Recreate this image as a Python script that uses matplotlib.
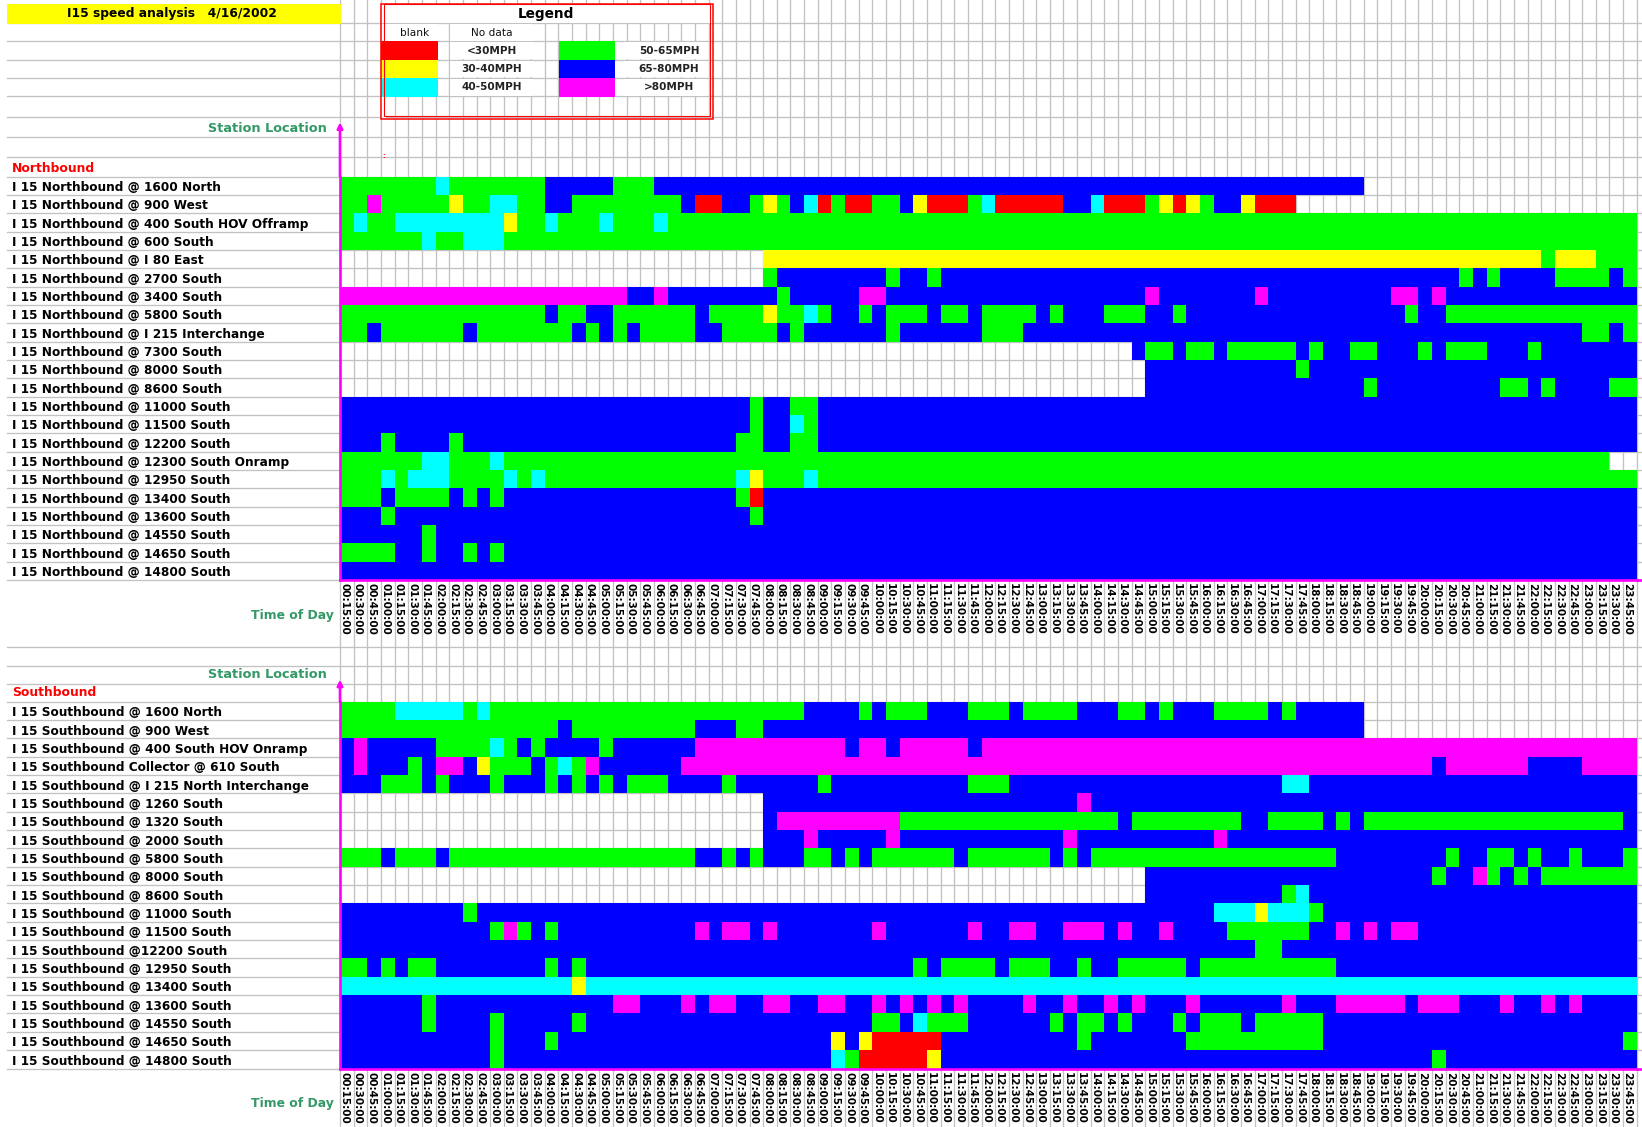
import numpy as np
import matplotlib
matplotlib.use('Agg')
import matplotlib.pyplot as plt
from matplotlib.colors import ListedColormap
from matplotlib.patches import Rectangle

W, H = 1642, 1127

# speed classes, in cell codes
codes = {'.': 0, 'R': 1, 'Y': 2, 'C': 3, 'G': 4, 'B': 5, 'M': 6}
class_colors = ['#ff0000', '#ffff00', '#00ffff', '#00ff00', '#0000ff', '#ff00ff']
legend_left = ['<30MPH', '30-40MPH', '40-50MPH']
legend_right = ['50-65MPH', '65-80MPH', '>80MPH']

north_labels = ['I 15 Northbound @ 1600 North', 'I 15 Northbound @ 900 West',
                'I 15 Northbound @ 400 South HOV Offramp', 'I 15 Northbound @ 600 South',
                'I 15 Northbound @ I 80 East', 'I 15 Northbound @ 2700 South',
                'I 15 Northbound @ 3400 South', 'I 15 Northbound @ 5800 South',
                'I 15 Northbound @ I 215 Interchange', 'I 15 Northbound @ 7300 South',
                'I 15 Northbound @ 8000 South', 'I 15 Northbound @ 8600 South',
                'I 15 Northbound @ 11000 South', 'I 15 Northbound @ 11500 South',
                'I 15 Northbound @ 12200 South', 'I 15 Northbound @ 12300 South Onramp',
                'I 15 Northbound @ 12950 South', 'I 15 Northbound @ 13400 South',
                'I 15 Northbound @ 13600 South', 'I 15 Northbound @ 14550 South',
                'I 15 Northbound @ 14650 South', 'I 15 Northbound @ 14800 South']

south_labels = ['I 15 Southbound @ 1600 North', 'I 15 Southbound @ 900 West',
                'I 15 Southbound @ 400 South HOV Onramp', 'I 15 Southbound Collector @ 610 South',
                'I 15 Southbound @ I 215 North Interchange', 'I 15 Southbound @ 1260 South',
                'I 15 Southbound @ 1320 South', 'I 15 Southbound @ 2000 South',
                'I 15 Southbound @ 5800 South', 'I 15 Southbound @ 8000 South',
                'I 15 Southbound @ 8600 South', 'I 15 Southbound @ 11000 South',
                'I 15 Southbound @ 11500 South', 'I 15 Southbound @12200 South',
                'I 15 Southbound @ 12950 South', 'I 15 Southbound @ 13400 South',
                'I 15 Southbound @ 13600 South', 'I 15 Southbound @ 14550 South',
                'I 15 Southbound @ 14650 South', 'I 15 Southbound @ 14800 South']

# one string per station: class letter + number of consecutive cells
north_runs = [
    'G7 C1 G7 B5 G3 B52 .20',
    'G2 M1 G5 Y1 G2 C2 G2 B2 G8 B1 R2 B2 G1 Y1 G1 B1 C1 R1 G1 R2 G2 B1 Y1 R3 G1 C1 R5 B2 C1 R3 G1 Y1 R1 Y1 G1 B2 Y1 R3 .25',
    'G1 C1 G2 C8 Y1 G2 C1 G3 C1 G3 C1 G71',
    'G6 C1 G2 C3 G83',
    '.31 Y57 G1 Y3 G3',
    '.31 G1 B8 G1 B2 G1 B38 G1 B1 G1 B4 G4 B1 G1',
    'M21 B2 M1 B8 G1 B5 M2 B19 M1 B7 M1 B9 M2 B1 M1 B14',
    'G15 B1 G2 B2 G6 B1 G4 Y1 G2 C1 G1 B2 G1 B1 G3 B1 G2 B1 G4 B1 G1 B3 G3 B2 G1 B16 G1 B2 G14',
    'G2 B1 G6 B1 G7 B1 G1 B1 G1 B1 G4 B2 G4 B1 G1 B6 G1 B6 G3 B41 G2 B1 G1',
    '.58 B1 G2 B1 G2 B1 G5 B1 G1 B2 G2 B3 G1 B1 G3 B3 G1 B7',
    '.59 B11 G1 B24',
    '.59 B16 G1 B9 G2 B1 G1 B4 G2',
    'B30 G1 B2 G2 B60',
    'B30 G1 B2 C1 G1 B60',
    'B3 G1 B4 G1 B20 G2 B2 G2 B60',
    'G6 C2 G3 C1 G81 .2',
    'G3 C1 G1 C3 G4 C1 G1 C1 G14 C1 Y1 G3 C1 G60',
    'G3 B1 G4 B1 G1 B1 G1 B17 G1 R1 B64',
    'B3 G1 B26 G1 B64',
    'B6 G1 B88',
    'G4 B2 G1 B2 G1 B1 G1 B83',
    'B95',
]

south_runs = [
    'G4 C5 G1 C1 G23 B4 G1 B1 G3 B3 G3 B1 G4 B3 G2 B1 G1 B3 G4 B1 G1 B5 .20',
    'G16 B1 G9 B3 G2 B44 .20',
    'B1 M1 B5 G4 C1 G1 B1 G1 B4 G1 B6 M11 B1 M2 B1 M5 B1 M48',
    'B1 M1 B3 G1 B1 M2 B1 Y1 G3 B1 G1 C1 G1 M1 B6 M55 B1 M6 B4 M4',
    'B3 G3 B1 G1 B3 G1 B3 G1 B1 G1 B1 G1 B1 G3 B4 G1 B6 G1 B10 G3 B20 C2 B24',
    '.31 B23 M1 B40',
    '.31 B1 M9 G16 B1 G8 B2 G4 B1 G1 B1 G19 B1',
    '.31 B3 M1 B5 M1 B12 M1 B10 M1 B30',
    'G3 B1 G3 B1 G18 B2 G1 B1 G1 B3 G2 B1 G1 B1 G6 B1 G6 B1 G1 B1 G18 B8 G1 B2 G2 B1 G1 B2 G1 B3 G1',
    '.59 B21 G1 B2 M1 G1 B1 G1 B1 G7',
    '.59 B10 G1 C1 B24',
    'B9 G1 B54 C3 Y1 C3 G1 B23',
    'B11 G1 M1 G1 B1 G1 B10 M1 B1 M2 B1 M1 B7 M1 B6 M1 B2 M2 B2 M3 B1 M1 B2 M1 B4 G6 B2 M1 B1 M1 B1 M2 B16',
    'B67 G2 B26',
    'G2 B1 G1 B1 G2 B8 G1 B1 G1 B24 G1 B1 G4 B1 G3 B2 G1 B2 G5 B1 G10 B22',
    'C17 Y1 C77',
    'B6 G1 B13 M2 B3 M1 B1 M2 B2 M2 B2 M2 B2 M1 B1 M1 B1 M1 B1 M1 B4 M1 B2 M1 B2 M1 B1 M1 B3 M1 B6 M1 B3 M5 B1 M3 B3 M1 B2 M1 B1 M1 B4',
    'B6 G1 B4 G1 B5 G1 B21 G2 B1 C1 G3 B6 G1 B1 G2 B1 G1 B3 G1 B1 G3 B1 G5 B23',
    'B11 G1 B3 G1 B20 Y1 B1 Y1 R5 B10 G1 B7 G10 B22 G1',
    'B11 G1 B24 C1 G1 R5 Y1 B36 G1 B14',
]

time_labels = [
    '00:15:00', '00:30:00', '00:45:00', '01:00:00', '01:15:00', '01:30:00', '01:45:00', '02:00:00',
    '02:15:00', '02:30:00', '02:45:00', '03:00:00', '03:15:00', '03:30:00', '03:45:00', '04:00:00',
    '04:15:00', '04:30:00', '04:45:00', '05:00:00', '05:15:00', '05:30:00', '05:45:00', '06:00:00',
    '06:15:00', '06:30:00', '06:45:00', '07:00:00', '07:15:00', '07:30:00', '07:45:00', '08:00:00',
    '08:15:00', '08:30:00', '08:45:00', '09:00:00', '09:15:00', '09:30:00', '09:45:00', '10:00:00',
    '10:15:00', '10:30:00', '10:45:00', '11:00:00', '11:15:00', '11:30:00', '11:45:00', '12:00:00',
    '12:15:00', '12:30:00', '12:45:00', '13:00:00', '13:15:00', '13:30:00', '13:45:00', '14:00:00',
    '14:15:00', '14:30:00', '14:45:00', '15:00:00', '15:15:00', '15:30:00', '15:45:00', '16:00:00',
    '16:15:00', '16:30:00', '16:45:00', '17:00:00', '17:15:00', '17:30:00', '17:45:00', '18:00:00',
    '18:15:00', '18:30:00', '18:45:00', '19:00:00', '19:15:00', '19:30:00', '19:45:00', '20:00:00',
    '20:15:00', '20:30:00', '20:45:00', '21:00:00', '21:15:00', '21:30:00', '21:45:00', '22:00:00',
    '22:15:00', '22:30:00', '22:45:00', '23:00:00', '23:15:00', '23:30:00', '23:45:00',
]


def decode(rows):
    out = []
    for row in rows:
        cells = []
        for tok in row.split():
            cells += [codes[tok[0]]] * int(tok[1:])
        out.append(cells)
    return np.ma.masked_equal(np.array(out), 0)


plt.rcParams['font.family'] = 'DejaVu Sans'
fig = plt.figure(figsize=(W / 100, H / 100), dpi=100, facecolor='white')

# sheet background, axes in image pixels
bg = fig.add_axes([0, 0, 1, 1])
bg.set_xlim(0, W)
bg.set_ylim(H, 0)
bg.axis('off')

LEFT, CELL_W, ROW_H = 340, 13.65, 18.34
NORTH_TOP, SOUTH_TOP = 176.5, 701.7
GRID = '#c2c2c2'

for k in range(96):
    bg.plot([LEFT + k * CELL_W] * 2, [0, H], color=GRID, lw=0.95, zorder=1)
ys = [23, 41, 60, 78, 96, 117, 137, 157]
ys += [NORTH_TOP + i * ROW_H for i in range(23)]
ys += [647, 665.5, 684]
ys += [SOUTH_TOP + i * ROW_H for i in range(21)]
for y in ys:
    bg.plot([7, W], [y, y], color=GRID, lw=0.95, zorder=1)

# title band
bg.add_patch(Rectangle((7, 4), 334, 20, fc='#ffff00', ec='none', zorder=2))
bg.text(172, 14, 'I15 speed analysis   4/16/2002', ha='center', va='center',
        fontsize=8.8, fontweight='bold', zorder=5)

# legend block, merged cells hide the vertical grid
bg.add_patch(Rectangle((381, 4), 331, 19, fc='white', ec='none', zorder=2))
bg.add_patch(Rectangle((381, 23.5), 57, 17, fc='white', ec='none', zorder=2))
bg.add_patch(Rectangle((381, 97), 5, 21, fc='white', ec='none', zorder=2))
bg.add_patch(Rectangle((450, 24), 83, 16.5, fc='white', ec='none', zorder=2))
for i in range(3):
    y0, y1 = [41, 60, 78][i], [60, 78, 97][i]
    bg.add_patch(Rectangle((450, y0 + 0.8), 83, y1 - y0 - 1.6, fc='white', ec='none', zorder=2))
    bg.add_patch(Rectangle((623, y0 + 0.8), 84, y1 - y0 - 1.6, fc='white', ec='none', zorder=2))
    bg.add_patch(Rectangle((381, y0), 57, y1 - y0, fc=class_colors[i], ec='none', zorder=3))
    bg.add_patch(Rectangle((559, y0), 56, y1 - y0, fc=class_colors[i + 3], ec='none', zorder=3))
    bg.text(492, (y0 + y1) / 2, legend_left[i], ha='center', va='center', fontsize=7.6,
            fontweight='bold', zorder=5, color='#222222')
    bg.text(669, (y0 + y1) / 2, legend_right[i], ha='center', va='center', fontsize=7.6,
            fontweight='bold', zorder=5, color='#222222')
bg.text(546, 14, 'Legend', ha='center', va='center', fontsize=9.8, fontweight='bold', zorder=5)
bg.text(415, 33, 'blank', ha='center', va='center', fontsize=7.6, zorder=5, color='#111111')
bg.text(492, 33, 'No data', ha='center', va='center', fontsize=7.6, zorder=5, color='#111111')
bg.add_patch(Rectangle((381, 4), 331.5, 114.5, fc='none', ec='#ff0000', lw=1.1, zorder=4))
bg.add_patch(Rectangle((384, 4), 325.5, 111.5, fc='none', ec='#ff0000', lw=0.8, zorder=4))

# section captions
GREEN_TXT = '#339966'
bg.text(327, 128, 'Station Location', ha='right', va='center', color=GREEN_TXT, fontsize=9.3, fontweight='bold', zorder=5)
bg.text(327, 675, 'Station Location', ha='right', va='center', color=GREEN_TXT, fontsize=9.3, fontweight='bold', zorder=5)
bg.text(334, 615, 'Time of Day', ha='right', va='center', color=GREEN_TXT, fontsize=8.9, fontweight='bold', zorder=5)
bg.text(334, 1103, 'Time of Day', ha='right', va='center', color=GREEN_TXT, fontsize=8.9, fontweight='bold', zorder=5)
bg.text(12, 168, 'Northbound', ha='left', va='center', color='#ff0000', fontsize=8.9, fontweight='bold', zorder=5)
bg.text(12, 693, 'Southbound', ha='left', va='center', color='#ff0000', fontsize=8.9, fontweight='bold', zorder=5)
bg.text(384, 156, ':', ha='center', va='center', color='#ff0000', fontsize=5, fontweight='bold', zorder=5)

cmap = ListedColormap(class_colors)
RIGHT = LEFT + 95 * CELL_W


def panel(top, runs, labels, arrow_rows):
    grid = decode(runs)
    n = grid.shape[0]
    ax = fig.add_axes([LEFT / W, 1 - (top + n * ROW_H) / H, (RIGHT - LEFT) / W, n * ROW_H / H])
    ax.set_facecolor('none')
    ax.pcolormesh(np.arange(96), np.arange(n + 1), grid, cmap=cmap, vmin=0.5, vmax=6.5, antialiased=False)
    ax.set_xlim(0, 95)
    ax.set_ylim(n, 0)
    for s in ['top', 'right']:
        ax.spines[s].set_visible(False)
    for s in ['left', 'bottom']:
        ax.spines[s].set_color('#ff00ff')
        ax.spines[s].set_linewidth(1.9)
    ax.set_yticks(np.arange(n) + 0.52, labels, ha='left', fontsize=8.75, fontweight='bold')
    ax.set_xticks(np.arange(95) + 0.3, time_labels, rotation=-90, ha='center', va='top', fontsize=7.5, fontweight='bold')
    ax.tick_params(axis='y', length=0, pad=(LEFT - 12) * 0.72)
    ax.tick_params(axis='x', length=0, pad=2.5)
    # magenta line runs past the last column, axis line ends in an arrow
    ax.plot([95, 95 + 5.3 / CELL_W], [n, n], color='#ff00ff', lw=1.9, clip_on=False)
    ax.annotate('', xy=(0, -arrow_rows), xytext=(0, 0), annotation_clip=False,
                arrowprops=dict(arrowstyle='-|>', color='#ff00ff', lw=1.9, mutation_scale=8, shrinkA=0, shrinkB=0))
    return ax


ax_north = panel(NORTH_TOP, north_runs, north_labels, 2.95)
ax_south = panel(SOUTH_TOP, south_runs, south_labels, 1.2)

fig.savefig('out.png', dpi=100)
